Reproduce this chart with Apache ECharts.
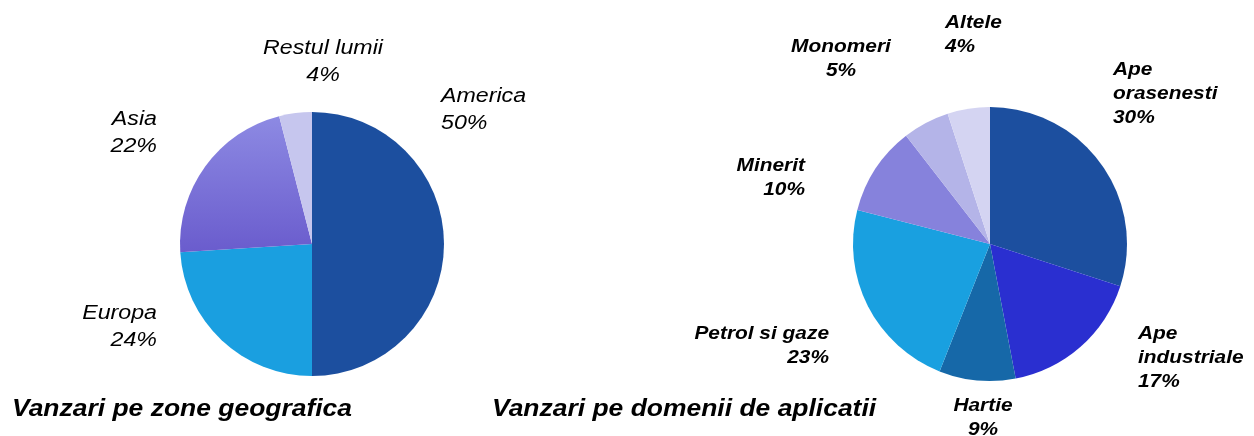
<!DOCTYPE html>
<html>
<head>
<meta charset="utf-8">
<script src="https://cdn.jsdelivr.net/npm/echarts@6/dist/echarts.min.js"></script>
<style>
html,body{margin:0;padding:0;background:#fff;}
#c{width:1254px;height:436px;}
</style>
</head>
<body>
<div id="c"></div>
<script>
// ---- data ----
const geoNames = ['America', 'Europa', 'Asia', 'Restul lumii'];
const geoValues = [50, 24, 22, 4];                 // slice sizes (as drawn)
const geoLabels = ['50%', '24%', '22%', '4%'];     // printed percentages
const appNames = ['Ape orasenesti', 'Ape industriale', 'Hartie', 'Petrol si gaze', 'Minerit', 'Monomeri', 'Altele'];
const appValues = [30, 17, 9, 23, 10.5, 5.5, 5];   // slice sizes (as drawn)
const appLabels = ['30%', '17%', '9%', '23%', '10%', '5%', '4%']; // printed percentages
const titles = ['Vanzari pe zone geografica', 'Vanzari pe domenii de aplicatii'];

// ---- styles ----
const geoColors = ['#1c4f9f', '#1a9fe0',
  {type:'linear', x:0, y:0, x2:0, y2:1, colorStops:[{offset:0,color:'#8d8ae3'},{offset:1,color:'#6a5ccd'}]},
  '#c6c6ee'];
const appColors = ['#1c4f9f', '#2a2fd0', '#1668a8', '#19a0e0', '#8682dc', '#b4b4e8', '#d4d4f2'];
// label anchor positions: [x, yCenter, align]
const geoLabelPos = [[441,110,'left'],[157,327,'right'],[157,133,'right'],[323,62,'center']];
const appLabelPos = [[1113,94,'left'],[1138,358,'left'],[983,418,'center'],[829,346,'right'],[805,178,'right'],[841,59,'center'],[945,35,'left']];
const titlePos = [[12,410],[492,410]];

const FONT = '"Liberation Sans", Arial, sans-serif';
const STRETCH = 1.16;

function mk(names, vals, colors) {
  return names.map((n, i) => ({name: n, value: vals[i], itemStyle: {color: colors[i]}}));
}
function labelTexts(names, pcts, pos, opts, brk) {
  return names.map((n, i) => ({
    type: 'text',
    x: pos[i][0], y: pos[i][1],
    scaleX: STRETCH,
    silent: true,
    style: {
      text: (brk ? n.replace('Ape ', 'Ape\n') : n) + '\n' + pcts[i],
      fill: '#000',
      fontFamily: FONT,
      fontSize: opts.size,
      fontStyle: 'italic',
      fontWeight: opts.weight,
      lineHeight: opts.lh,
      align: pos[i][2],
      verticalAlign: 'middle'
    }
  }));
}

const graphics = []
  .concat(labelTexts(geoNames, geoLabels, geoLabelPos, {size: 20, weight: 'normal', lh: 27}, false))
  .concat(labelTexts(appNames, appLabels, appLabelPos, {size: 18, weight: 'bold', lh: 24}, true))
  .concat(titles.map((t, i) => ({
    type: 'text', x: titlePos[i][0], y: titlePos[i][1], scaleX: 1.15, silent: true,
    style: {text: t, fill: '#000', fontFamily: FONT, fontSize: 23, fontWeight: 'bold', fontStyle: 'italic',
            align: 'left', verticalAlign: 'middle'}
  })));

const chart = echarts.init(document.getElementById('c'), null, {renderer: 'canvas'});
chart.setOption({
  animation: false,
  backgroundColor: '#ffffff',
  series: [
    {
      type: 'pie',
      center: [312, 244],
      radius: 132,
      startAngle: 90,
      clockwise: true,
      data: mk(geoNames, geoValues, geoColors),
      label: {show: false},
      labelLine: {show: false},
      emphasis: {disabled: true}
    },
    {
      type: 'pie',
      center: [990, 244],
      radius: 137,
      startAngle: 90,
      clockwise: true,
      data: mk(appNames, appValues, appColors),
      label: {show: false},
      labelLine: {show: false},
      emphasis: {disabled: true}
    }
  ],
  graphic: graphics
});
</script>
</body>
</html>
